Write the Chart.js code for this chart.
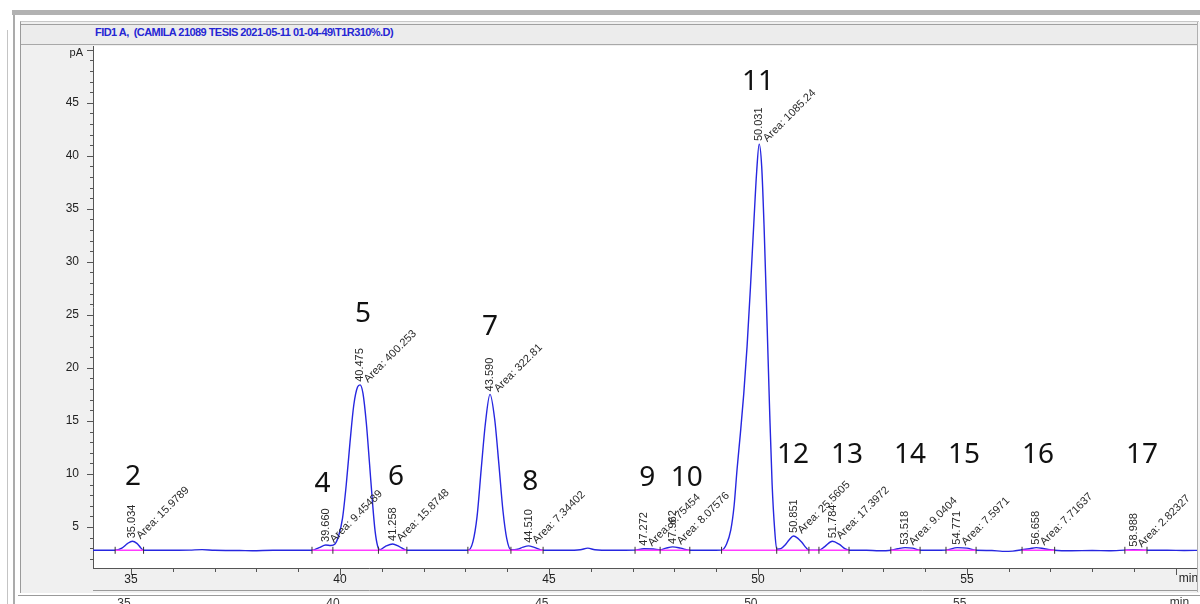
<!DOCTYPE html>
<html>
<head>
<meta charset="utf-8">
<title>FID1 A chromatogram</title>
<script src="https://cdn.jsdelivr.net/npm/chart.js@4.4.1/dist/chart.umd.min.js"></script>
<style>
  html, body { margin: 0; padding: 0; width: 1200px; height: 604px; overflow: hidden; background: #fff; }
  body { position: relative; font-family: "Liberation Sans", Arial, sans-serif; }
  .ln { position: absolute; }
  #panel { position: absolute; left: 20px; top: 21px; width: 1178px; height: 571px; background: #f0f0f0; border-left: 1px solid #9a9a9a; border-top: 1px solid #c8c8c8; }
  #titlebar { position: absolute; left: 21px; top: 24px; width: 1177px; height: 19px; background: #ececec; border-top: 1px solid #a0a0a0; border-bottom: 1px solid #a8a8a8; }
  #title { position: absolute; left: 95px; top: 26px; font: bold 11px "Liberation Sans", Arial, sans-serif; letter-spacing: -0.55px; color: #2626d4; white-space: pre; }
  #wrap { position: absolute; left: 24px; top: 38px; width: 1179px; height: 582px; }
</style>
</head>
<body>
<div class="ln" style="left:12px;top:10px;width:1188px;height:5px;background:#b2b2b2"></div>
<div class="ln" style="left:7px;top:30px;width:1px;height:574px;background:#c4c4c4"></div>
<div class="ln" style="left:13px;top:15px;width:2px;height:589px;background:#ababab"></div>
<div id="panel"></div>
<div id="titlebar"></div>
<div id="title">FID1 A,  (CAMILA 21089 TESIS 2021-05-11 01-04-49\T1R310%.D)</div>
<div id="wrap"><canvas id="fidChart"></canvas></div>
<div class="ln" style="left:1197px;top:22px;width:1px;height:570px;background:#b0b0b0"></div>
<div class="ln" style="left:1198px;top:22px;width:2px;height:570px;background:#f4f4f4"></div>
<div class="ln" style="left:18px;top:595px;width:1182px;height:1px;background:#9a9a9a"></div>
<script>
// detector signal (pA) against retention time (min)
const timeMin = [
  34.09, 34.40, 34.62, 34.78, 34.92, 35.03, 35.14, 35.23, 35.30, 35.80,
  36.40, 36.70, 37.00, 37.60, 37.90, 38.40, 39.00, 39.33, 39.50, 39.66,
  39.78, 39.88, 39.97, 40.06, 40.15, 40.24, 40.33, 40.42, 40.48, 40.55,
  40.63, 40.71, 40.78, 40.84, 40.90, 40.95, 41.08, 41.26, 41.42, 41.60,
  42.00, 42.50, 43.06, 43.18, 43.28, 43.38, 43.48, 43.59, 43.70, 43.80,
  43.90, 43.99, 44.09, 44.25, 44.38, 44.51, 44.65, 44.86, 45.40, 45.75,
  45.93, 46.10, 46.50, 47.06, 47.27, 47.50, 47.66, 47.80, 47.96, 48.15,
  48.37, 48.80, 49.13, 49.25, 49.35, 49.43, 49.50, 49.58, 49.66, 49.74,
  49.82, 49.90, 49.97, 50.03, 50.09, 50.15, 50.22, 50.28, 50.34, 50.40,
  50.45, 50.55, 50.65, 50.75, 50.85, 50.95, 51.05, 51.15, 51.22, 51.46,
  51.60, 51.78, 51.95, 52.08, 52.18, 52.60, 52.90, 53.18, 53.35, 53.52,
  53.70, 53.88, 54.20, 54.50, 54.77, 55.00, 55.22, 55.60, 55.85, 56.10,
  56.32, 56.50, 56.66, 56.85, 57.10, 57.50, 58.00, 58.40, 58.78, 58.99,
  59.31, 59.80, 60.20, 60.60
];
const signalPA = [
  2.80, 2.80, 2.80, 3.00, 3.45, 3.65, 3.45, 3.05, 2.80, 2.80,
  2.82, 2.86, 2.80, 2.78, 2.76, 2.80, 2.80, 2.80, 3.05, 3.30,
  3.25, 3.40, 4.20, 5.80, 9.00, 13.00, 16.50, 18.20, 18.40, 17.60,
  14.80, 10.80, 7.20, 4.60, 3.20, 2.85, 3.15, 3.40, 3.15, 2.80,
  2.80, 2.80, 2.80, 3.60, 6.00, 10.50, 14.80, 17.50, 15.20, 11.00,
  6.50, 3.90, 2.85, 2.90, 3.10, 3.22, 3.08, 2.80, 2.80, 2.85,
  3.00, 2.85, 2.80, 2.82, 2.95, 2.92, 2.85, 3.00, 3.12, 3.00,
  2.80, 2.80, 2.82, 3.40, 4.70, 7.00, 10.40, 13.80, 17.50, 22.00,
  27.50, 33.50, 38.50, 41.10, 39.00, 33.00, 24.00, 16.00, 9.00, 4.80,
  2.90, 2.95, 3.30, 3.80, 4.15, 3.95, 3.55, 3.05, 2.80, 2.80,
  3.15, 3.65, 3.35, 2.95, 2.80, 2.80, 2.75, 2.80, 2.95, 3.05,
  3.00, 2.80, 2.80, 2.82, 3.05, 3.00, 2.80, 2.78, 2.70, 2.72,
  2.85, 2.95, 3.05, 2.95, 2.80, 2.75, 2.78, 2.75, 2.82, 2.86,
  2.80, 2.80, 2.78, 2.80
];

// integrated peaks
const peakNumbers = ['2', '4', '5', '6', '7', '8', '9', '10', '11', '12', '13', '14', '15', '16', '17'];
const peakTimes = [35.034, 39.660, 40.475, 41.258, 43.590, 44.510, 47.272, 47.962, 50.031, 50.851, 51.784, 53.518, 54.771, 56.658, 58.988];
const peakHeights = [3.65, 3.30, 18.40, 3.40, 17.50, 3.22, 2.95, 3.12, 41.10, 4.15, 3.65, 3.05, 3.05, 3.05, 2.86];
const peakAreas = ['15.9789', '9.45489', '400.253', '15.8748', '322.81', '7.34402', '6.75454', '8.07576', '1085.24', '25.5605', '17.3972', '9.0404', '7.5971', '7.71637', '2.82327'];
// where the hand-written peak numbers sit (min, pA)
const numberAtMin = [35.05, 39.58, 40.55, 41.34, 43.59, 44.55, 47.35, 48.30, 50.00, 50.84, 52.13, 53.64, 54.93, 56.70, 59.19];
const numberAtPA = [9.0, 8.3, 24.3, 9.0, 23.1, 8.5, 8.9, 8.9, 46.2, 11.0, 11.0, 11.0, 11.0, 11.0, 11.0];

// integration baselines and event marks
const baseStart = [34.62, 39.33, 43.06, 47.06, 49.13, 53.18, 54.50, 56.32, 58.78];
const baseEnd = [35.30, 41.60, 44.86, 48.37, 52.18, 53.88, 55.22, 57.10, 59.31];
const baseLevel = 2.8;
const eventTimes = [34.62, 35.30, 39.33, 39.83, 40.92, 41.60, 43.06, 44.09, 44.86, 47.06, 47.66, 48.37,
  49.13, 50.45, 51.22, 51.46, 52.18, 53.18, 53.88, 54.50, 55.22, 56.32, 57.10, 58.78, 59.31];

const xMin = 34.09, xMax = 60.53;
const yMin = 1.13, yMax = 50.35;

const signalPoints = timeMin.map((t, i) => ({ x: t, y: signalPA[i] }));
const basePoints = [];
baseStart.forEach((s, i) => {
  basePoints.push({ x: s, y: baseLevel }, { x: baseEnd[i], y: baseLevel }, { x: baseEnd[i], y: null });
});
const eventPoints = eventTimes.map(t => ({ x: t, y: baseLevel }));

// whole minutes only
const integerTicks = s => {
  s.ticks = [];
  for (let v = Math.ceil(s.min); v <= Math.floor(s.max); v++) s.ticks.push({ value: v });
};
// the 60 slot carries "min", drawn left-aligned by the plugin
const minuteLabel = v => (v % 5 === 0 && v !== 60 ? String(v) : null);

const plotBackground = {
  id: 'plotBackground',
  beforeDraw(chart) {
    const { ctx, chartArea: a } = chart;
    ctx.save();
    ctx.fillStyle = '#ffffff';
    ctx.fillRect(a.left, a.top, a.right - a.left, a.bottom - a.top);
    ctx.restore();
  }
};

// minor / major tick marks, y labels and unit labels
const tickMarks = {
  id: 'tickMarks',
  afterDraw(chart) {
    const { ctx, scales: { x, x2, y } } = chart;
    ctx.save();
    ctx.strokeStyle = '#555';
    ctx.lineWidth = 1;
    ctx.beginPath();
    for (let v = Math.ceil(yMin); v <= Math.floor(yMax); v++) {
      const py = Math.round(y.getPixelForValue(v)) + 0.5;
      const len = v % 5 === 0 ? 6 : 3;
      ctx.moveTo(x.left - len, py);
      ctx.lineTo(x.left, py);
    }
    for (let v = Math.ceil(xMin); v <= Math.floor(xMax); v++) {
      const px = Math.round(x.getPixelForValue(v)) + 0.5;
      const len = v % 5 === 0 ? 7 : 4;
      ctx.moveTo(px, y.bottom);
      ctx.lineTo(px, y.bottom + len);
    }
    ctx.stroke();

    ctx.fillStyle = '#222';
    ctx.font = '12px "Liberation Sans", Arial, sans-serif';
    ctx.textAlign = 'right';
    ctx.textBaseline = 'middle';
    for (let v = 5; v < 50; v += 5) {
      ctx.fillText(String(v), x.left - 14, y.getPixelForValue(v));
    }
    ctx.font = '11px "Liberation Sans", Arial, sans-serif';
    ctx.fillText('pA', x.left - 10, y.getPixelForValue(50) + 3);

    ctx.font = '12px "Liberation Sans", Arial, sans-serif';
    ctx.textAlign = 'left';
    ctx.textBaseline = 'top';
    ctx.fillText('min', x.getPixelForValue(60) + 3, y.bottom + 5);
    ctx.fillStyle = '#333';
    ctx.fillText('min', x2.getPixelForValue(60) + 1, x2.top + 7);
    ctx.restore();
  }
};

const peakLabels = {
  id: 'peakLabels',
  afterDatasetsDraw(chart) {
    const { ctx, scales: { x, y } } = chart;
    ctx.save();
    peakTimes.forEach((t, i) => {
      const px = x.getPixelForValue(t);
      const py = y.getPixelForValue(peakHeights[i]);
      ctx.fillStyle = '#2a2a2a';
      ctx.font = '11px "Liberation Sans", Arial, sans-serif';
      ctx.textAlign = 'left';
      ctx.textBaseline = 'middle';

      ctx.save();
      ctx.translate(px, py - 3);
      ctx.rotate(-Math.PI / 2);
      ctx.fillText(t.toFixed(3), 0, 0);
      ctx.restore();

      ctx.save();
      ctx.translate(px + 6, py - 4);
      ctx.rotate(-Math.PI / 4);
      ctx.fillText('Area: ' + peakAreas[i], 0, 0);
      ctx.restore();

      ctx.fillStyle = '#111';
      ctx.font = '28px "Noto Sans", "Open Sans", sans-serif';
      ctx.textAlign = 'center';
      ctx.textBaseline = 'alphabetic';
      ctx.fillText(peakNumbers[i], x.getPixelForValue(numberAtMin[i]), y.getPixelForValue(numberAtPA[i]));
    });
    ctx.restore();
  }
};

const ctx = document.getElementById('fidChart').getContext('2d');
const fidChart = new Chart(ctx, {
  type: 'line',
  data: {
    datasets: [
      {
        label: 'events',
        data: eventPoints,
        showLine: false,
        pointStyle: 'line',
        rotation: 90,
        pointRadius: 3.5,
        borderColor: '#333',
        borderWidth: 1,
        order: 0
      },
      {
        label: 'baseline',
        data: basePoints,
        borderColor: '#ff3cff',
        borderWidth: 1.4,
        pointRadius: 0,
        spanGaps: false,
        tension: 0,
        order: 1
      },
      {
        label: 'FID1 A',
        data: signalPoints,
        borderColor: '#2626e0',
        borderWidth: 1.4,
        pointRadius: 0,
        cubicInterpolationMode: 'monotone',
        order: 2
      }
    ]
  },
  options: {
    responsive: true,
    maintainAspectRatio: false,
    animation: false,
    layout: { padding: { top: 8, left: 0, right: 0, bottom: 0 } },
    plugins: { legend: { display: false }, tooltip: { enabled: false } },
    scales: {
      x: {
        type: 'linear',
        position: 'bottom',
        weight: 0,
        min: xMin,
        max: xMax,
        grid: { display: false, drawTicks: false },
        border: { display: true, color: '#555', width: 1 },
        afterBuildTicks: integerTicks,
        ticks: {
          autoSkip: false,
          maxRotation: 0,
          padding: 4,
          color: '#222',
          font: { family: '"Liberation Sans", Arial, sans-serif', size: 12 },
          callback: minuteLabel
        },
        afterFit: s => { s.height = 22; }
      },
      x2: {
        type: 'linear',
        position: 'bottom',
        weight: 1,
        min: xMin + 0.17,
        max: xMax + 0.17,
        grid: { display: false, drawTicks: false },
        border: { display: true, color: '#9a9a9a', width: 1 },
        afterBuildTicks: integerTicks,
        ticks: {
          autoSkip: false,
          maxRotation: 0,
          padding: 6,
          color: '#333',
          font: { family: '"Liberation Sans", Arial, sans-serif', size: 12 },
          callback: minuteLabel
        },
        afterFit: s => { s.height = 30; }
      },
      y: {
        type: 'linear',
        min: yMin,
        max: yMax,
        grid: { display: false, drawTicks: false },
        border: { display: true, color: '#555', width: 1 },
        ticks: { display: false },
        afterFit: s => { s.width = 69; }
      }
    }
  },
  plugins: [plotBackground, tickMarks, peakLabels]
});
</script>
</body>
</html>
